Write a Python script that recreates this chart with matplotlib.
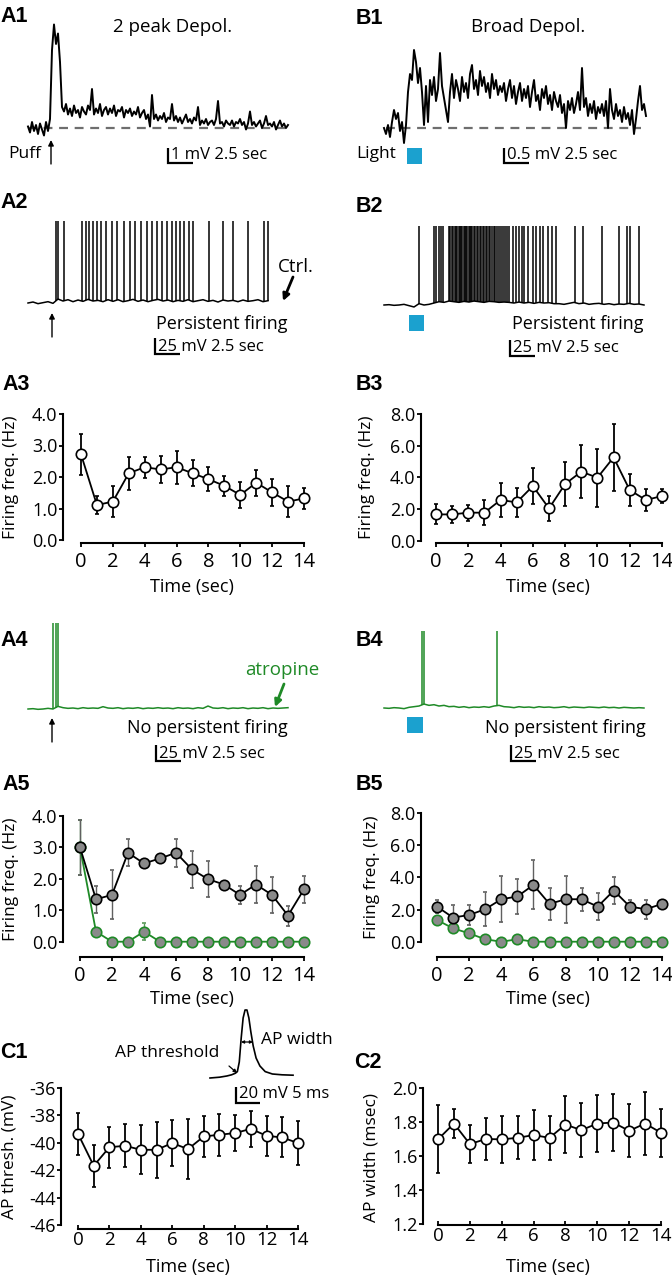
import numpy as np
import matplotlib
matplotlib.use('Agg')
import matplotlib.pyplot as plt
from matplotlib.patches import Rectangle

plt.rcParams['font.family'] = ['Open Sans', 'DejaVu Sans']

# ---------------- data ----------------
time_sec = list(range(15))

a3_freq = [2.72, 1.11, 1.22, 2.12, 2.31, 2.24, 2.31, 2.12, 1.93, 1.72, 1.43, 1.82, 1.51, 1.22, 1.32]
a3_err = [0.65, 0.29, 0.50, 0.52, 0.34, 0.42, 0.52, 0.42, 0.39, 0.32, 0.42, 0.41, 0.44, 0.48, 0.33]

b3_freq = [1.66, 1.66, 1.77, 1.77, 2.57, 2.42, 3.45, 2.04, 3.58, 4.36, 3.98, 5.26, 3.20, 2.57, 2.82]
b3_err = [0.63, 0.53, 0.50, 0.77, 1.05, 0.93, 1.14, 0.80, 1.38, 1.68, 1.84, 2.10, 1.00, 0.67, 0.43]

a5_ctrl = [3.00, 1.35, 1.49, 2.83, 2.49, 2.65, 2.83, 2.30, 1.99, 1.82, 1.49, 1.82, 1.49, 0.83, 1.67]
a5_ctrl_err = [0.88, 0.43, 0.78, 0.43, 0.05, 0.15, 0.44, 0.60, 0.58, 0.12, 0.28, 0.60, 0.57, 0.32, 0.43]
a5_atro = [3.00, 0.32, 0.0, 0.0, 0.32, 0.0, 0.0, 0.0, 0.0, 0.0, 0.0, 0.0, 0.0, 0.0, 0.0]
a5_atro_err = [0.88, 0.05, 0.0, 0.0, 0.26, 0.0, 0.0, 0.0, 0.0, 0.0, 0.0, 0.0, 0.0, 0.0, 0.0]

b5_ctrl = [2.18, 1.50, 1.66, 2.02, 2.64, 2.81, 3.53, 2.35, 2.64, 2.64, 2.18, 3.18, 2.18, 2.02, 2.35]
b5_ctrl_err = [0.41, 0.77, 0.65, 1.04, 1.42, 1.10, 1.52, 1.00, 1.47, 0.72, 0.85, 0.86, 0.41, 0.58, 0.05]
b5_atro = [1.35, 0.83, 0.52, 0.15, 0.0, 0.15, 0.0, 0.0, 0.0, 0.0, 0.0, 0.0, 0.0, 0.0, 0.0]
b5_atro_err = [0.10, 0.30, 0.10, 0.05, 0.0, 0.05, 0.0, 0.0, 0.0, 0.0, 0.0, 0.0, 0.0, 0.0, 0.0]

c1_thresh = [-39.34, -41.68, -40.32, -40.22, -40.51, -40.51, -40.02, -40.46, -39.54, -39.41,
             -39.29, -38.98, -39.49, -39.61, -40.02]
c1_err = [1.55, 1.52, 1.50, 1.58, 1.78, 2.04, 1.70, 2.20, 1.50, 1.52, 1.30, 1.30, 1.45, 1.46, 1.60]

c2_width = [1.698, 1.791, 1.670, 1.700, 1.698, 1.707, 1.723, 1.707, 1.785, 1.752, 1.791, 1.797,
            1.748, 1.791, 1.737]
c2_err = [0.20, 0.084, 0.11, 0.125, 0.14, 0.127, 0.146, 0.13, 0.166, 0.16, 0.168, 0.17, 0.155, 0.185, 0.14]

# A1 trace (mV above baseline), sampled every 0.2 s
a1_dt = 0.2
a1_trace = [0.1, -0.3, 0.4, -0.2, 0.2, -0.4, 0.3, -0.1, -0.5, 0.4, -0.2,
            0.6, 5.2, 6.9, 5.6, 6.3, 4.4, 1.4, 1.1, 1.6, 0.9,
            1.3, 0.8, 1.5, 1.0, 1.2, 0.7, 1.4, 1.1, 0.9, 1.5,
            1.2, 2.6, 0.9, 1.3, 1.0, 1.6, 0.8, 1.2, 1.4, 0.9,
            1.3, 1.0, 1.5, 0.8, 1.2, 1.1, 1.4, 0.7, 1.2, 1.0,
            1.3, 0.8, 1.1, 0.9, 1.4, 0.7, 1.0, 1.2, 0.6, 0.9,
            0.1, 2.2, 0.6, 0.9, 0.5, 0.8, 0.6, 1.0, 0.4, 0.7,
            0.6, 1.6, 0.5, 0.8, 0.4, 0.7, 0.3, 0.6, 0.9, 0.4,
            0.6, 0.3, 0.7, 0.5, 1.4, 0.2, 0.5, 0.3, 0.6, 0.2,
            0.4, 0.5, 0.2, 0.6, 1.8, 0.3, 0.4, 0.1, 0.5, 0.3,
            0.2, 0.5, 0.1, 0.4, 0.3, 0.6, 0.2, 0.4, -0.1, 0.3,
            1.1, 0.2, 0.4, 0.1, 0.3, 0.5, 0.0, 0.3, 0.8, 0.2,
            0.3, 0.1, 0.4, -0.1, 0.2, 0.5, 0.1, 0.3, 0.0, 0.2]

# B1 trace (mV above baseline), sampled every 0.2 s
b1_dt = 0.2
b1_trace = [0.0, -0.2, 0.1, -0.3, 0.2, 0.6, 0.3, 0.5, -0.1, 0.2,
            -0.5, 0.1, 1.2, 1.8, 1.6, 2.6, 2.2, 1.5, 2.0, 1.2,
            0.1, 1.4, 0.2, 1.6, 1.1, 1.7, 0.9, 1.3, 2.5, 1.4,
            1.0, 0.6, 0.2, 1.2, 1.8, 1.0, 1.6, 1.3, 0.9, 1.7,
            1.2, 1.5, 1.0, 1.8, 2.1, 1.3, 1.6, 1.1, 1.9, 1.4,
            1.7, 1.2, 1.5, 1.0, 1.8, 1.3, 1.6, 1.1, 1.4, 1.2,
            1.5, 0.9, 1.3, 1.6, 1.0, 1.4, 0.8, 1.2, 1.5, 0.9,
            1.3, 1.0, 1.4, 0.7, 1.2, 1.6, 0.9, 1.1, 0.6, 1.3,
            1.0, 1.4, 0.8, 1.1, 0.6, 1.2, 0.9, 0.7, 1.1, 0.5,
            0.8, 0.0, 0.9, 0.6, 1.0, 0.5, 0.8, 1.2, 0.6, 2.0,
            0.7, 1.0, 0.4, 0.8, 0.5, 0.9, 0.3, 0.7, 0.5, 0.8,
            0.4, 0.9, 0.0, 1.3, 0.6, 0.3, 0.8, 0.4, 0.6, 0.2,
            0.7, 0.3, 0.5, 0.1, 0.6, -0.2, 0.3, 0.9, 1.4, 0.6,
            0.8, 0.4]

# spike trains: spike times (s), baseline membrane potential (mV) every 0.5 s, spike peak (mV)
base_dt = 0.5
a2_spikes = [2.8, 3.0, 3.6, 5.37, 5.77, 6.13, 6.47, 6.87, 7.27, 7.8, 8.37, 8.93, 9.6, 10.2, 10.7,
             11.27, 11.87, 12.37, 12.87, 13.43, 13.93, 14.37, 14.77, 15.23, 15.63, 16.07, 16.53,
             18.13, 19.47, 20.53, 22.03, 23.63, 24.03]
a2_base = [-60, -58.5, -61, -59.5, -58, -60.5,
           -54, -57, -55, -58, -55.5, -57.5, -54.5, -57, -56, -58,
           -55, -57.5, -55, -58, -56.5, -54.5, -57.5, -55.5, -58, -56,
           -54.5, -57, -55.5, -58, -56, -57.5, -55, -58, -56.5, -55,
           -57.5, -56, -58.5, -55.5, -57, -56, -58, -55.5, -57.5, -56.5,
           -55, -58, -56.5]
a2_peak = 64

b2_spikes = [3.53, 4.97, 5.2, 5.47, 5.7, 5.93, 6.45, 6.6, 6.75, 6.9, 7.05, 7.2, 7.32, 7.45, 7.58,
             7.7, 7.82, 7.95, 8.08, 8.2, 8.33, 8.45, 8.58, 8.7, 8.83, 8.95, 9.1, 9.25, 9.4, 9.55,
             9.7, 9.85, 10.0, 10.15, 10.3, 10.45, 10.6, 10.78, 10.95, 11.12, 11.3, 11.48, 11.66,
             11.85, 12.05, 12.25, 12.5, 12.87, 13.2, 13.47, 13.77, 14.03, 14.37, 14.87, 15.2,
             15.6, 15.93, 16.37, 16.8, 17.2, 19.13, 19.87, 21.77, 23.47, 24.3, 24.6, 25.53]
b2_base = [-60, -59.5, -60.5, -60, -59, -61, -63, -58, -60, -59, -57,
           -55, -56, -54, -55, -56, -54.5, -55.5, -54, -55, -56, -54.5, -55, -56, -55.5,
           -56, -57, -55.5, -57, -56, -57.5, -56, -57, -56.5, -58,
           -58, -59, -57.5, -56, -58, -57, -59, -58, -57.5, -59, -58, -59.5, -58.5, -59,
           -57.5, -59, -58.5, -60]
b2_peak = 59

a4_spikes = [2.53, 2.77, 3.03]
a4_base = [-60, -59.5, -60.5, -60, -59, -60, -56, -58, -59, -58.5, -59.5, -58, -59, -58.5,
           -59, -56.5, -58.5, -59, -58, -59.5, -58.5, -59, -58, -59.5, -58.5, -59, -58,
           -59, -58.5, -59.5, -58, -59, -58.5, -59.5, -58, -59, -55.5, -58.5, -59, -58,
           -59.5, -58.5, -59, -58, -59.5, -58.5, -59, -58, -59.5, -58.5, -59, -58.5, -58]
a4_peak = 70

b4_spikes = [3.8, 3.97, 11.3]
b4_base = [-60, -60.5, -59.5, -60, -61, -59, -58, -57, -54, -56, -55, -57, -56, -58, -57.5,
           -59, -58, -59.5, -58.5, -59, -58, -59, -57, -56, -58, -58.5, -59.5, -58, -59,
           -58.5, -59.5, -58, -59, -58.5, -59.5, -59, -58, -59.5, -58.5, -59, -59.5, -58.5,
           -59, -59.5, -58.5, -59.5, -59, -60, -59, -59.5, -60, -59.5, -60]
b4_peak = 57

# AP waveform (ms, mV above baseline)
ap_t = [0, 2.0, 3.5, 4.5, 5.3, 5.7, 6.1, 6.5, 6.9, 7.3, 7.7, 8.1, 8.5, 9.0, 9.6, 10.4, 11.5, 13.0, 15.0, 17.3]
ap_v = [0, 1.0, 2.5, 4.0, 6.0, 8.0, 20.0, 50.0, 75.0, 85.0, 85.0, 75.0, 58.0, 40.0, 25.0, 15.0, 8.0, 5.0, 4.0, 3.5]

GREEN = '#1f8a27'
BLUE = '#1ba1cf'

# ---------------- figure ----------------
W, H = 672, 1280
fig = plt.figure(figsize=(W / 100, H / 100), dpi=100)


def px_rect(x0, y0, x1, y1):
    return [x0 / W, 1 - y1 / H, (x1 - x0) / W, (y1 - y0) / H]


def trace_ax(rect, origin_px, pps, ref_px, ref_val, ppu):
    x0, y0, x1, y1 = rect
    ax = fig.add_axes(px_rect(*rect))
    ax.set_xlim((x0 - origin_px) / pps, (x1 - origin_px) / pps)
    ax.set_ylim(ref_val - (y1 - ref_px) / ppu, ref_val + (ref_px - y0) / ppu)
    ax.axis('off')
    return ax


def scalebar(ax, t, v_top, dv, dt, lw=1.6):
    ax.plot([t, t, t + dt], [v_top, v_top - dv, v_top - dv], color='k', lw=lw,
            solid_capstyle='butt', solid_joinstyle='miter', clip_on=False)


def spike_train(ax, spikes, base, peak, color):
    tb = np.arange(len(base)) * base_dt
    ax.plot(tb, base, color=color, lw=1.1)
    sp = np.array(spikes)
    ax.vlines(sp, np.interp(sp, tb, base), peak, color=color, lw=1.1)


def stat_ax(x0px, x14px, yspx, y_lo, ylo_px, y_hi, yhi_px, xspx, top_px, right_px,
            yticks, yfmt, xlab_size=14.5, xdir='out', xpad=3.5):
    ppx = (x14px - x0px) / 14.0
    ppy = (ylo_px - yhi_px) / (y_hi - y_lo)
    ax = fig.add_axes(px_rect(yspx, top_px, right_px, xspx))
    ax.set_xlim(-(x0px - yspx) / ppx, 14 + (right_px - x14px) / ppx)
    ax.set_ylim(y_lo - (xspx - ylo_px) / ppy, y_hi + (yhi_px - top_px) / ppy)
    ax.patch.set_alpha(0)
    for s in ['top', 'right']:
        ax.spines[s].set_visible(False)
    for s in ['left', 'bottom']:
        ax.spines[s].set_linewidth(1.5)
    ax.spines['left'].set_bounds(y_lo, y_hi)
    ax.spines['bottom'].set_bounds(0, 14)
    ax.set_xticks(range(0, 15, 2))
    ax.set_yticks(yticks)
    ax.set_yticklabels([yfmt % v for v in yticks])
    ax.tick_params(axis='y', direction='out', length=3, width=1.3, pad=1, labelsize=13)
    ax.tick_params(axis='x', direction=xdir, length=3, width=1.3, pad=xpad, labelsize=xlab_size)
    return ax


def open_series(ax, y, e):
    ax.errorbar(time_sec, y, yerr=e, fmt='-o', color='k', mfc='white', mec='k', ms=7.5,
                mew=1.2, lw=1.3, capsize=1.6, elinewidth=1.3, capthick=1.3, clip_on=False)


def drug_series(ax, ctrl, ctrl_e, atro, atro_e):
    ax.errorbar(time_sec, atro, yerr=atro_e, fmt='-o', color=GREEN, ecolor='#5a9a5a', mfc='#8a8a8a',
                mec=GREEN, ms=7.5, mew=1.2, lw=1.3, capsize=1.4, elinewidth=1.0, clip_on=False)
    ax.errorbar(time_sec, ctrl, yerr=ctrl_e, fmt='-o', color='k', ecolor='#606060', mfc='#8a8a8a',
                mec='k', ms=7.5, mew=1.2, lw=1.3, capsize=1.4, elinewidth=1.0, clip_on=False)


# ---- A1 ----
ax = trace_ax((0, 0, 336, 175), 28, 10, 128, 0.0, 15)
ax.plot([0, 26], [0, 0], color='#6e6e6e', lw=1.6, dashes=(4, 3))
ax.plot(np.arange(len(a1_trace)) * a1_dt, a1_trace, color='k', lw=1.4)
scalebar(ax, 14.0, -1.33, 1.0, 2.5)

# ---- B1 ----
ax = trace_ax((336, 0, 672, 175), 384, 10, 128, 0.0, 30)
ax.plot([0.2, 25.7], [0, 0], color='#6e6e6e', lw=1.6, dashes=(4, 3))
ax.plot(np.arange(len(b1_trace)) * b1_dt, b1_trace, color='k', lw=1.4)
scalebar(ax, 12.0, -0.67, 0.5, 2.5)

# ---- A2 ----
ax = trace_ax((0, 175, 336, 370), 28, 10, 303, -60.0, 0.66)
spike_train(ax, a2_spikes, a2_base, a2_peak, 'k')
scalebar(ax, 12.7, -113, 25, 2.5)

# ---- B2 ----
ax = trace_ax((336, 175, 672, 370), 384, 10, 305, -60.0, 0.66)
spike_train(ax, b2_spikes, b2_base, b2_peak, 'k')
scalebar(ax, 12.6, -113, 25, 2.5)

# ---- A4 ----
ax = trace_ax((0, 600, 336, 770), 28, 10, 709, -60.0, 0.66)
spike_train(ax, a4_spikes, a4_base, a4_peak, GREEN)
scalebar(ax, 12.8, -114.5, 25, 2.5)

# ---- B4 ----
ax = trace_ax((336, 600, 672, 770), 384, 10, 708, -60.0, 0.66)
spike_train(ax, b4_spikes, b4_base, b4_peak, GREEN)
scalebar(ax, 12.7, -116, 25, 2.5)

# ---- A3 / B3 ----
ax = stat_ax(81, 304, 63, 0, 540, 4, 414, 543, 400, 316, [0, 1, 2, 3, 4], '%.1f')
open_series(ax, a3_freq, a3_err)
ax = stat_ax(436, 662, 421, 0, 540.7, 8, 414, 543, 400, 672, [0, 2, 4, 6, 8], '%.1f')
open_series(ax, b3_freq, b3_err)

# ---- A5 / B5 ----
ax = stat_ax(80, 304, 63, 0, 941.7, 4, 816, 957, 800, 316, [0, 1, 2, 3, 4], '%.1f')
drug_series(ax, a5_ctrl, a5_ctrl_err, a5_atro, a5_atro_err)
ax = stat_ax(437, 662, 421, 0, 941.7, 8, 813, 957, 800, 672, [0, 2, 4, 6, 8], '%.1f')
drug_series(ax, b5_ctrl, b5_ctrl_err, b5_atro, b5_atro_err)

# ---- C1 / C2 ----
ax = stat_ax(78, 298, 61, -46, 1225, -36, 1088, 1229, 1075, 312,
             [-46, -44, -42, -40, -38, -36], '%d', xlab_size=13.5, xdir='in', xpad=1.5)
open_series(ax, c1_thresh, c1_err)
ax = stat_ax(438, 661, 423, 1.2, 1224, 2.0, 1088, 1225, 1075, 672,
             [1.2, 1.4, 1.6, 1.8, 2.0], '%.1f', xlab_size=13.5, xdir='in', xpad=1.5)
open_series(ax, c2_width, c2_err)

# AP inset
ax = trace_ax((200, 1000, 310, 1115), 210, 4.8, 1078, 0.0, 0.8)
ax.plot(ap_t, ap_v, color='k', lw=1.2, clip_on=False)
scalebar(ax, 5.42, -11.25, 20, 5)

# ---------------- overlay (pixel coordinates) ----------------
ov = fig.add_axes([0, 0, 1, 1])
ov.set_xlim(0, W)
ov.set_ylim(H, 0)
ov.axis('off')
ov.patch.set_alpha(0)

PL = dict(fontsize=15.5, fontweight='bold', family=['Liberation Sans', 'DejaVu Sans'], va='center', ha='left')
for lab, x, y in [('A1', 0, 17), ('B1', 356, 19), ('A2', 0, 203), ('B2', 356, 207),
                  ('A3', 2, 384), ('B3', 356, 384), ('A4', 0, 641), ('B4', 356, 641),
                  ('A5', 2, 784), ('B5', 356, 784), ('C1', 0, 1052), ('C2', 354, 1063)]:
    ov.text(x, y, lab, **PL)


def t(x, y, s, size=12.5, ha='left', va='center', **kw):
    ov.text(x, y, s, fontsize=size, ha=ha, va=va, **kw)


def arrow(x0, y0, x1, y1, color='k', lw=1.0, ms=8, style='-|>'):
    ov.annotate('', xy=(x1, y1), xytext=(x0, y0),
                arrowprops=dict(arrowstyle=style, lw=lw, color=color, mutation_scale=ms,
                                shrinkA=0, shrinkB=0))


# titles
t(173, 27, '2 peak Depol.', size=13.5, ha='center')
t(528, 27, 'Broad Depol.', size=13.5, ha='center')

# A1 / B1 annotations
t(8, 154, 'Puff')
arrow(51, 164, 51, 140)
t(171, 155, '1 mV 2.5 sec', size=12)
t(356, 154, 'Light')
ov.add_patch(Rectangle((407, 148), 15, 16, color=BLUE, lw=0))
t(507, 155, '0.5 mV 2.5 sec', size=12)

# A2 / B2
arrow(52, 337, 52, 313)
t(278, 267, 'Ctrl.', size=13.5)
arrow(293, 277, 283, 301, lw=2.0, ms=10)
t(287, 324, 'Persistent firing', size=13, ha='right')
t(158, 347, '25 mV 2.5 sec', size=12)
ov.add_patch(Rectangle((409, 315), 15, 16, color=BLUE, lw=0))
t(643, 324, 'Persistent firing', size=13, ha='right')
t(513, 348, '25 mV 2.5 sec', size=12)

# A4 / B4
t(245, 670, 'atropine', size=13.5, color=GREEN)
arrow(284, 684, 275, 707, color=GREEN, lw=2.0, ms=10)
arrow(52, 742, 52, 718)
t(288, 728, 'No persistent firing', size=13, ha='right')
t(159, 754, '25 mV 2.5 sec', size=12)
ov.add_patch(Rectangle((407, 717), 16, 16, color=BLUE, lw=0))
t(646, 728, 'No persistent firing', size=13, ha='right')
t(514, 754, '25 mV 2.5 sec', size=12)

# C1 inset labels
t(115, 1053, 'AP threshold', size=12.5)
arrow(229, 1066, 237, 1073, lw=0.9, ms=5)
t(261, 1040, 'AP width', size=12.5)
arrow(241, 1042, 253, 1042, lw=0.9, ms=4, style='<|-|>')
t(239, 1094, '20 mV 5 ms', size=12)

# axis labels
for x, y, s in [(11, 477, 'Firing freq. (Hz)'), (367, 477, 'Firing freq. (Hz)'),
                (11, 879, 'Firing freq. (Hz)'), (372, 877, 'Firing freq. (Hz)'),
                (10, 1157, 'AP thresh. (mV)'), (371, 1157, 'AP width (msec)')]:
    t(x, y, s, size=12.5, ha='center', rotation=90)
for x, y in [(192, 587), (548, 587), (192, 999), (548, 999), (188, 1267), (548, 1267)]:
    t(x, y, 'Time (sec)', size=13, ha='center')

fig.savefig('out.png', dpi=100)
